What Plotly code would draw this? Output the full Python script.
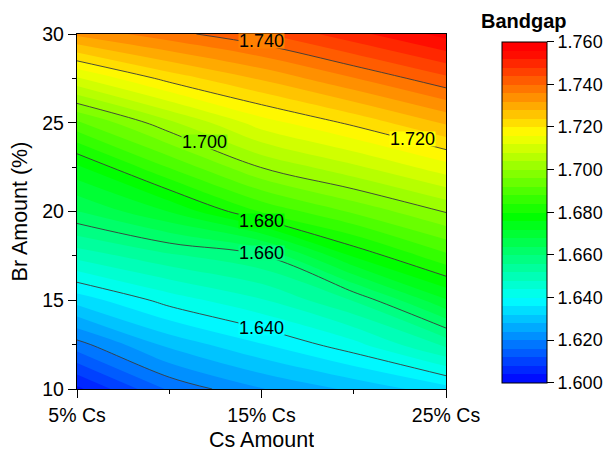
import plotly.graph_objects as go

# Data
cs_amount = [5, 10, 15, 20, 25]
cs_tick_vals = [5, 15, 25]
cs_tick_text = ["5% Cs", "15% Cs", "25% Cs"]
br_amount = [10, 12.5, 15, 17.5, 20, 22.5, 25, 27.5, 30]

# Bandgap values along Br amount for each Cs amount
bandgap_cs5 = [1.6030, 1.6184, 1.6336, 1.6494, 1.6639, 1.6752, 1.6911, 1.7115, 1.7330]
bandgap_cs10 = [1.6167, 1.6291, 1.6417, 1.6551, 1.6721, 1.6883, 1.7030, 1.7216, 1.7385]
bandgap_cs15 = [1.6238, 1.6357, 1.6476, 1.6595, 1.6844, 1.7002, 1.7141, 1.7286, 1.7436]
bandgap_cs20 = [1.6289, 1.6426, 1.6563, 1.6765, 1.6927, 1.7071, 1.7210, 1.7358, 1.7507]
bandgap_cs25 = [1.6344, 1.6531, 1.6716, 1.6871, 1.7003, 1.7144, 1.7286, 1.7431, 1.7575]

# Contour line labels (level, label position in data units)
label_levels = [1.64, 1.66, 1.68, 1.70, 1.72, 1.74]
label_x = [15, 15, 15, 11.9, 23.2, 15]
label_y = [13.45, 17.65, 19.45, 23.9, 24.1, 29.6]

cbar_vals = [1.60, 1.62, 1.64, 1.66, 1.68, 1.70, 1.72, 1.74, 1.76]
cbar_text = ["1.600", "1.620", "1.640", "1.660", "1.680", "1.700", "1.720", "1.740", "1.760"]

columns = [bandgap_cs5, bandgap_cs10, bandgap_cs15, bandgap_cs20, bandgap_cs25]
z = [[col[i] for col in columns] for i in range(len(br_amount))]

ZMIN, ZMAX, STEP = 1.6, 1.76, 0.004
jet_stops = [(0.0, (0, 0, 255)), (0.25, (0, 255, 255)), (0.5, (0, 255, 0)),
             (0.75, (255, 255, 0)), (1.0, (255, 0, 0))]
jet = [[s, "rgb(%d,%d,%d)" % c] for s, c in jet_stops]


def jet_color(t):
    t = min(max(t, 0.0), 1.0)
    for (s0, c0), (s1, c1) in zip(jet_stops[:-1], jet_stops[1:]):
        if t <= s1:
            f = (t - s0) / (s1 - s0)
            return "rgb(%d,%d,%d)" % tuple(round(a + (b - a) * f) for a, b in zip(c0, c1))
    return "rgb(255,0,0)"


FONT = "Liberation Sans, Arial, sans-serif"

# plot area in pixels
L, R, T, B = 77, 446, 34, 389
W, H = 609, 453

fig = go.Figure()
fig.add_trace(go.Contour(
    x=cs_amount, y=br_amount, z=z,
    colorscale=jet, zmin=ZMIN, zmax=ZMAX, zauto=False,
    contours=dict(start=ZMIN, end=ZMAX, size=STEP, coloring="fill", showlines=False),
    line=dict(width=0),
    colorbar=dict(
        xref="paper", x=(502 - L) / (R - L), xanchor="left", xpad=0,
        yref="paper", y=(B - 212.2) / (B - T), yanchor="middle", ypad=0,
        thickness=45, thicknessmode="pixels",
        len=341 / (B - T), lenmode="fraction",
        outlinewidth=1, outlinecolor="black",
        tickmode="array", tickvals=cbar_vals, ticktext=cbar_text,
        ticks="outside", ticklen=7, tickwidth=1, tickcolor="black",
        tickfont=dict(size=18, family=FONT, color="black"),
    ),
))
fig.add_trace(go.Contour(
    x=cs_amount, y=br_amount, z=z,
    showscale=False,
    contours=dict(start=1.62, end=1.74, size=0.02, coloring="none", showlabels=False),
    line=dict(color="#3a3a3a", width=0.9),
    hoverinfo="skip",
))

for lv, lx, ly in zip(label_levels, label_x, label_y):
    fig.add_annotation(
        text="%.3f" % lv, x=lx, y=ly, xref="x", yref="y",
        showarrow=False, xanchor="center", yanchor="middle",
        font=dict(size=18, family=FONT, color="black"),
        bgcolor=jet_color((lv - ZMIN) / (ZMAX - ZMIN)), borderpad=0,
        height=14,
    )

fig.add_annotation(
    text="<b>Bandgap</b>", xref="paper", yref="paper",
    x=(524 - L) / (R - L), y=(B - 21) / (B - T),
    xanchor="center", yanchor="middle", showarrow=False,
    font=dict(size=20, family=FONT, color="black"),
)
fig.add_annotation(
    text="Cs Amount", xref="paper", yref="paper",
    x=0.5, y=(B - 440) / (B - T),
    xanchor="center", yanchor="middle", showarrow=False,
    font=dict(size=21.5, family=FONT, color="black"),
    height=16, borderpad=0,
)

fig.update_layout(
    width=W, height=H,
    margin=dict(l=L, r=W - R, t=T, b=H - B, autoexpand=False),
    paper_bgcolor="white", plot_bgcolor="white",
    font=dict(family=FONT, color="black"),
    showlegend=False,
)
fig.update_xaxes(
    range=[5, 25], tickmode="array", tickvals=cs_tick_vals, ticktext=cs_tick_text,
    ticks="outside", ticklen=8, tickwidth=1.3, tickcolor="black",
    minor=dict(tickmode="array", tickvals=[10, 20], ticks="outside", ticklen=4,
               tickwidth=1.3, tickcolor="black"),
    showline=True, linecolor="black", linewidth=1.3, mirror=True,
    showgrid=False, zeroline=False,
    tickfont=dict(size=19.5, family=FONT, color="black"),
)
fig.update_yaxes(
    range=[10, 30], tickmode="linear", tick0=10, dtick=5,
    ticks="outside", ticklen=8, tickwidth=1.3, tickcolor="black",
    minor=dict(tick0=10, dtick=2.5, ticks="outside", ticklen=4, tickwidth=1.3, tickcolor="black"),
    showline=True, linecolor="black", linewidth=1.3, mirror=True,
    showgrid=False, zeroline=False,
    tickfont=dict(size=19.5, family=FONT, color="black"),
    title=dict(text="Br Amount (%)", font=dict(size=21.5, family=FONT, color="black"), standoff=8),
)

fig.write_html("out.html", config={"displayModeBar": False},
               post_script="document.body.style.margin='0';")
